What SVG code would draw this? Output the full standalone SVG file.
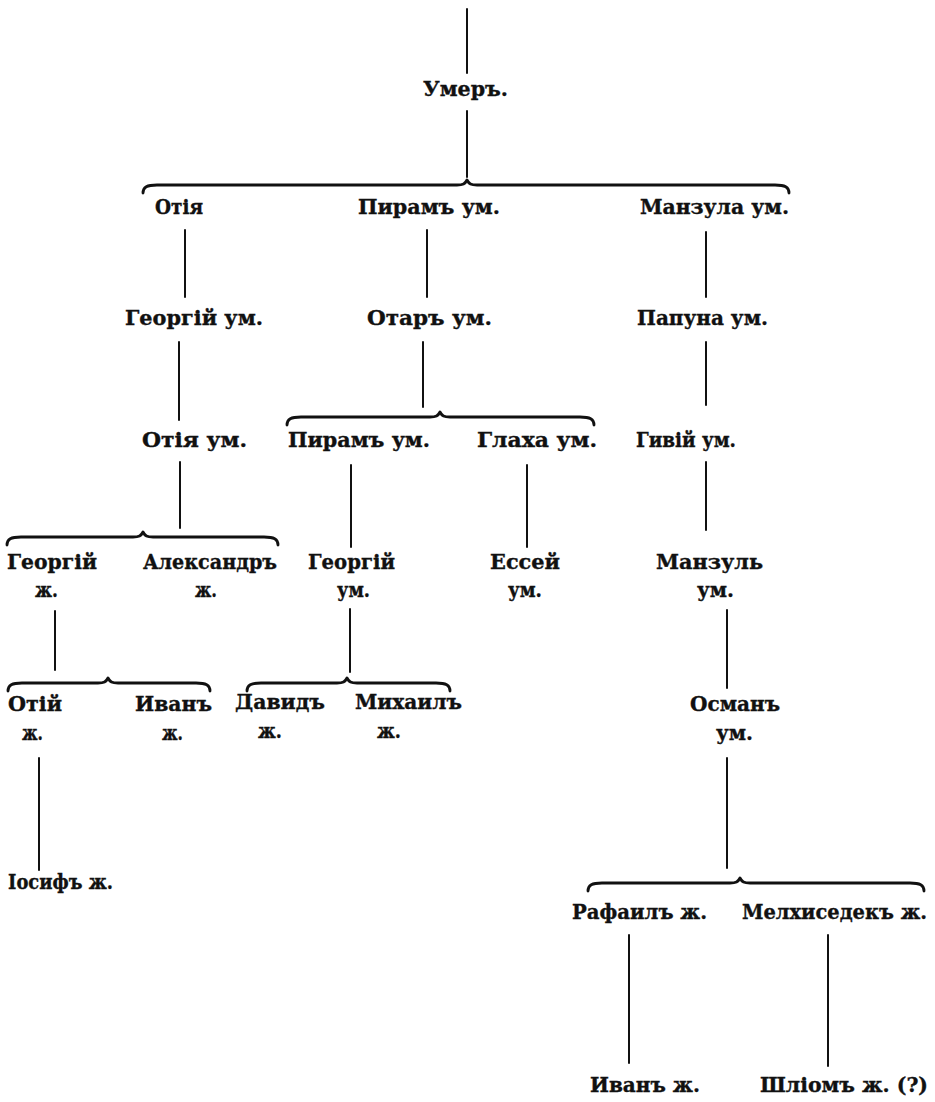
<svg xmlns="http://www.w3.org/2000/svg" width="935" height="1102" viewBox="0 0 935 1102">
  <style>
    .bg { fill: #ffffff; }
    text { font-family: "DejaVu Serif", "Liberation Serif", serif; font-weight: bold; font-size: 20px; fill: #111111; stroke: #111111; stroke-width: 0.35; }
    .line { stroke: #111111; stroke-width: 2; fill: none; stroke-linecap: round; }
    .brace { stroke: #111111; stroke-width: 2.8; fill: none; stroke-linecap: round; stroke-linejoin: round; }
  </style>
  <rect class="bg" x="0" y="0" width="935" height="1102"/>

  <!-- descent lines and family braces -->
  <g id="connectors">
    <line class="line" x1="467" y1="9" x2="467" y2="73"/>
    <line class="line" x1="467" y1="111" x2="467" y2="177"/>
    <path class="brace" d="M143,193 C143,187 147,185 157,185 L457,185 C463,185 465,184 467,180 C469,184 471,185 477,185 L775,185 C785,185 789,187 789,193"/>

    <line class="line" x1="185" y1="230" x2="185" y2="297"/>
    <line class="line" x1="427" y1="230" x2="427" y2="297"/>
    <line class="line" x1="706" y1="232" x2="706" y2="297"/>

    <line class="line" x1="179" y1="342" x2="179" y2="420"/>
    <line class="line" x1="423" y1="342" x2="423" y2="407"/>
    <path class="brace" d="M287,425 C287,419 291,417 301,417 L430,417 C436,417 438,416 440,412 C442,416 444,417 450,417 L580,417 C590,417 594,419 594,425"/>
    <line class="line" x1="706" y1="342" x2="706" y2="405"/>

    <line class="line" x1="180" y1="462" x2="180" y2="528"/>
    <path class="brace" d="M7,545 C7,539 11,537 21,537 L133,537 C139,537 141,536 143,532 C145,536 147,537 153,537 L264,537 C274,537 278,539 278,545"/>
    <line class="line" x1="351" y1="465" x2="351" y2="547"/>
    <line class="line" x1="527" y1="465" x2="527" y2="547"/>
    <line class="line" x1="706" y1="462" x2="706" y2="530"/>

    <line class="line" x1="55" y1="611" x2="55" y2="670"/>
    <path class="brace" d="M8,691 C8,685 12,683 22,683 L98,683 C104,683 106,682 108,678 C110,682 112,683 118,683 L196,683 C206,683 210,685 210,691"/>
    <line class="line" x1="350" y1="609" x2="350" y2="672"/>
    <path class="brace" d="M247,691 C247,685 251,683 261,683 L337,683 C343,683 345,682 347,678 C349,682 351,683 357,683 L436,683 C446,683 450,685 450,691"/>
    <line class="line" x1="727" y1="610" x2="727" y2="688"/>

    <line class="line" x1="39" y1="758" x2="39" y2="870"/>
    <line class="line" x1="727" y1="758" x2="727" y2="868"/>
    <path class="brace" d="M588,891 C588,885 592,883 602,883 L730,883 C736,883 738,882 740,878 C742,882 744,883 750,883 L910,883 C920,883 924,885 924,891"/>

    <line class="line" x1="629" y1="935" x2="629" y2="1063"/>
    <line class="line" x1="828" y1="935" x2="828" y2="1066"/>
  </g>

  <!-- people -->
  <g id="n-umer"><text x="423" y="96" textLength="85" lengthAdjust="spacingAndGlyphs">Умеръ.</text></g>

  <g id="n-otia1"><text x="155" y="214" textLength="48" lengthAdjust="spacingAndGlyphs">Отія</text></g>
  <g id="n-piram1"><text x="358" y="214" textLength="142" lengthAdjust="spacingAndGlyphs">Пирамъ ум.</text></g>
  <g id="n-manzula"><text x="640" y="214" textLength="149" lengthAdjust="spacingAndGlyphs">Манзула ум.</text></g>

  <g id="n-georgii1"><text x="125" y="325" textLength="138" lengthAdjust="spacingAndGlyphs">Георгій ум.</text></g>
  <g id="n-otar"><text x="367" y="325" textLength="125" lengthAdjust="spacingAndGlyphs">Отаръ ум.</text></g>
  <g id="n-papuna"><text x="637" y="325" textLength="131" lengthAdjust="spacingAndGlyphs">Папуна ум.</text></g>

  <g id="n-otia2"><text x="142" y="447" textLength="105" lengthAdjust="spacingAndGlyphs">Отія ум.</text></g>
  <g id="n-piram2"><text x="288" y="447" textLength="142" lengthAdjust="spacingAndGlyphs">Пирамъ ум.</text></g>
  <g id="n-glakha"><text x="477" y="447" textLength="120" lengthAdjust="spacingAndGlyphs">Глаха ум.</text></g>
  <g id="n-givii"><text x="636" y="447" textLength="100" lengthAdjust="spacingAndGlyphs">Гивій ум.</text></g>

  <g id="n-georgii2">
    <text x="7" y="569" textLength="90" lengthAdjust="spacingAndGlyphs">Георгій</text>
    <text x="35" y="597" textLength="23" lengthAdjust="spacingAndGlyphs">ж.</text>
  </g>
  <g id="n-aleksandr">
    <text x="143" y="569" textLength="134" lengthAdjust="spacingAndGlyphs">Александръ</text>
    <text x="195" y="597" textLength="22" lengthAdjust="spacingAndGlyphs">ж.</text>
  </g>
  <g id="n-georgii3">
    <text x="308" y="569" textLength="87" lengthAdjust="spacingAndGlyphs">Георгій</text>
    <text x="337" y="597" textLength="33" lengthAdjust="spacingAndGlyphs">ум.</text>
  </g>
  <g id="n-essei">
    <text x="490" y="569" textLength="70" lengthAdjust="spacingAndGlyphs">Ессей</text>
    <text x="508" y="597" textLength="34" lengthAdjust="spacingAndGlyphs">ум.</text>
  </g>
  <g id="n-manzul">
    <text x="656" y="569" textLength="107" lengthAdjust="spacingAndGlyphs">Манзуль</text>
    <text x="697" y="597" textLength="37" lengthAdjust="spacingAndGlyphs">ум.</text>
  </g>

  <g id="n-otii">
    <text x="8" y="711" textLength="54" lengthAdjust="spacingAndGlyphs">Отій</text>
    <text x="22" y="740" textLength="21" lengthAdjust="spacingAndGlyphs">ж.</text>
  </g>
  <g id="n-ivan1">
    <text x="135" y="711" textLength="77" lengthAdjust="spacingAndGlyphs">Иванъ</text>
    <text x="162" y="740" textLength="21" lengthAdjust="spacingAndGlyphs">ж.</text>
  </g>
  <g id="n-david">
    <text x="235" y="709" textLength="90" lengthAdjust="spacingAndGlyphs">Давидъ</text>
    <text x="258" y="738" textLength="24" lengthAdjust="spacingAndGlyphs">ж.</text>
  </g>
  <g id="n-mikhail">
    <text x="355" y="709" textLength="107" lengthAdjust="spacingAndGlyphs">Михаилъ</text>
    <text x="377" y="738" textLength="24" lengthAdjust="spacingAndGlyphs">ж.</text>
  </g>
  <g id="n-osman">
    <text x="690" y="711" textLength="90" lengthAdjust="spacingAndGlyphs">Османъ</text>
    <text x="716" y="740" textLength="37" lengthAdjust="spacingAndGlyphs">ум.</text>
  </g>

  <g id="n-iosif"><text x="8" y="889" textLength="105" lengthAdjust="spacingAndGlyphs">Іосифъ ж.</text></g>
  <g id="n-rafail"><text x="572" y="919" textLength="135" lengthAdjust="spacingAndGlyphs">Рафаилъ ж.</text></g>
  <g id="n-melkhisedek"><text x="742" y="919" textLength="185" lengthAdjust="spacingAndGlyphs">Мелхиседекъ ж.</text></g>

  <g id="n-ivan2"><text x="590" y="1092" textLength="110" lengthAdjust="spacingAndGlyphs">Иванъ ж.</text></g>
  <g id="n-shliom"><text x="760" y="1092" textLength="168" lengthAdjust="spacingAndGlyphs">Шліомъ ж. (?)</text></g>
</svg>
